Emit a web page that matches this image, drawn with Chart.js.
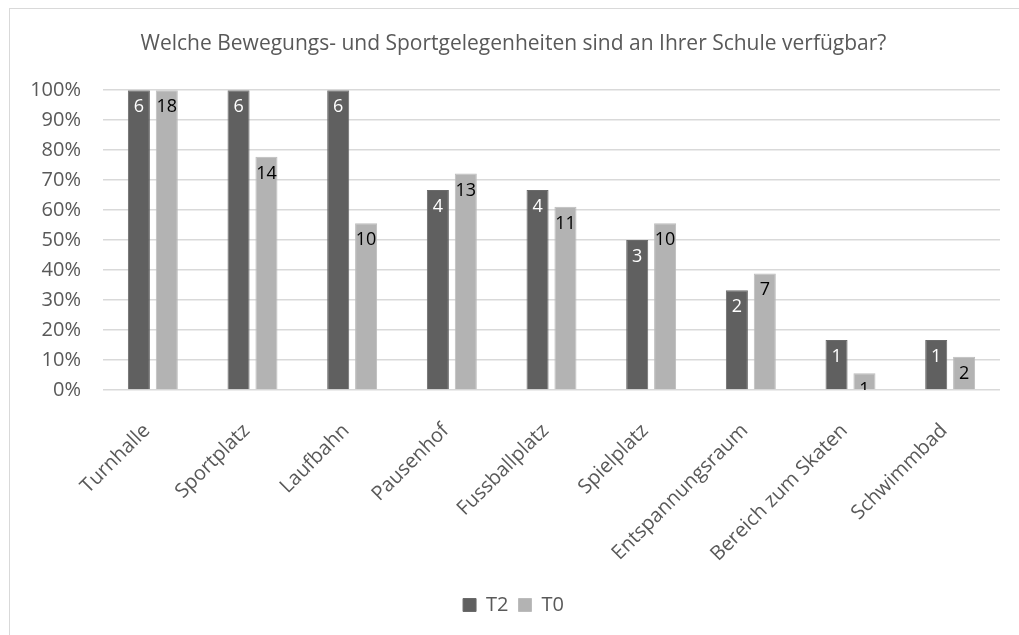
<!DOCTYPE html>
<html>
<head>
<meta charset="utf-8">
<script src="https://cdn.jsdelivr.net/npm/chart.js@4/dist/chart.umd.min.js"></script>
<style>
  html, body { margin: 0; padding: 0; background: #fff; }
  #wrap { position: relative; width: 1019px; height: 635px; overflow: hidden; }
  #frame { position: absolute; left: 9px; top: 8px; width: 1030px; height: 660px; border: 1px solid #d9d9d9; box-sizing: border-box; }
  canvas { position: absolute; left: 0; top: 0; }
</style>
</head>
<body>
<div id="wrap">
  <div id="frame"></div>
  <canvas id="chart" width="1019" height="635"></canvas>
</div>
<script>
'use strict';

// ---------- Data ----------
const categories = ['Turnhalle', 'Sportplatz', 'Laufbahn', 'Pausenhof', 'Fussballplatz',
    'Spielplatz', 'Entspannungsraum', 'Bereich zum Skaten', 'Schwimmbad'];

// share of schools (%) per group
const t2Values = [100, 100, 100, 66.7, 66.7, 50, 33.3, 16.7, 16.7];
const t0Values = [100, 77.8, 55.6, 72.2, 61.1, 55.6, 38.9, 5.6, 11.1];

// absolute counts shown inside the bars
const t2Counts = [6, 6, 6, 4, 4, 3, 2, 1, 1];
const t0Counts = [18, 14, 10, 13, 11, 10, 7, 1, 2];

const yTicks = [0, 10, 20, 30, 40, 50, 60, 70, 80, 90, 100];

const FONT = '"Open Sans", sans-serif';
const DARK = '#606060';
const LIGHT = '#b3b3b3';

// Count labels drawn just below the top of each bar
const countLabels = {
    id: 'countLabels',
    afterDatasetsDraw(chart) {
        const ctx = chart.ctx;
        const area = chart.chartArea;
        ctx.save();
        ctx.beginPath();
        ctx.rect(area.left, area.top - 2, area.right - area.left, area.bottom - area.top + 2);
        ctx.clip();
        ctx.font = '18px ' + FONT;
        ctx.textAlign = 'center';
        ctx.textBaseline = 'alphabetic';
        chart.data.datasets.forEach((ds, i) => {
            const meta = chart.getDatasetMeta(i);
            meta.data.forEach((bar, j) => {
                ctx.fillStyle = ds.labelColor;
                ctx.fillText(String(ds.counts[j]), bar.x, bar.y + 22);
            });
        });
        ctx.restore();
    }
};

new Chart(document.getElementById('chart'), {
    type: 'bar',
    data: {
        labels: categories,
        datasets: [
            {
                label: 'T2',
                data: t2Values,
                counts: t2Counts,
                labelColor: '#ffffff',
                backgroundColor: DARK,
                borderColor: '#6a6a6a',
                borderWidth: 1,
                categoryPercentage: 0.56,
                barPercentage: 0.79,
            },
            {
                label: 'T0',
                data: t0Values,
                counts: t0Counts,
                labelColor: '#000000',
                backgroundColor: LIGHT,
                borderColor: '#bcbcbc',
                borderWidth: 1,
                categoryPercentage: 0.56,
                barPercentage: 0.79,
            },
        ],
    },
    options: {
        responsive: false,
        animation: false,
        layout: { padding: { left: 27, right: 19, top: 10, bottom: 10 } },
        plugins: {
            title: {
                display: true,
                text: 'Welche Bewegungs- und Sportgelegenheiten sind an Ihrer Schule verfügbar?',
                color: '#595959',
                font: { family: FONT, size: 21, weight: 'normal' },
                padding: { top: 21, bottom: 34 },
            },
            legend: {
                position: 'bottom',
                labels: {
                    color: '#595959',
                    font: { family: FONT, size: 20 },
                    boxWidth: 13,
                    boxHeight: 13,
                    padding: 10,
                },
            },
            tooltip: { enabled: false },
        },
        scales: {
            x: {
                grid: { display: false },
                border: { display: false },
                afterFit(axis) { axis.height = 195; },
                ticks: {
                    color: '#595959',
                    font: { family: FONT, size: 20 },
                    minRotation: 45,
                    maxRotation: 45,
                    autoSkip: false,
                    labelOffset: -6,
                    padding: 21,
                },
            },
            y: {
                min: 0,
                max: 100,
                afterBuildTicks(axis) { axis.ticks = yTicks.map(v => ({ value: v })); },
                afterFit(axis) { axis.width = 76; },
                grid: { color: '#d9d9d9', lineWidth: 1.5, drawTicks: false },
                border: { display: false },
                ticks: {
                    color: '#595959',
                    font: { family: FONT, size: 20 },
                    padding: 22,
                    callback: v => v + '%',
                },
            },
        },
    },
    plugins: [countLabels],
});
</script>
</body>
</html>
